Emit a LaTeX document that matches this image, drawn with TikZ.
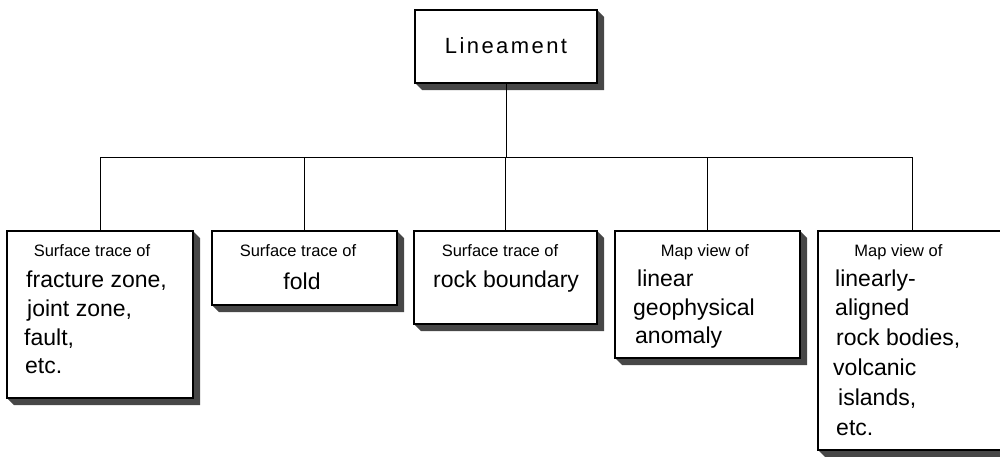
\documentclass[tikz,border=0pt]{standalone}
\usepackage{fontspec}
\setmainfont{Liberation Sans}
\newfontfamily\spacedfont[LetterSpace=11]{Liberation Sans}
\usetikzlibrary{backgrounds}

\tikzset{
  box/.style={draw=black, fill=white, line width=1.3pt, inner sep=0pt, outer sep=0pt},
  shadowfill/.style={fill=black!72},
  link/.style={draw=black, line width=1pt},
  head/.style={inner sep=0pt, anchor=base, font=\fontsize{16.5}{19}\selectfont},
  big/.style={inner sep=0pt, anchor=base west, font=\fontsize{23}{28}\selectfont},
  title/.style={inner sep=0pt, anchor=base, font=\spacedfont\fontsize{22}{26}\selectfont}
}

% extruded shadow along the bottom and right side of a box
\newcommand\dropshadow[1]{%
  \begin{pgfonlayer}{background}
    \fill[shadowfill] (#1.south west) -- ([xshift=7pt,yshift=-7pt]#1.south west)
      -- ([xshift=7pt,yshift=-7pt]#1.south east)
      -- ([xshift=7pt,yshift=-7pt]#1.north east)
      -- (#1.north east) -- cycle;
  \end{pgfonlayer}}

\begin{document}
\begin{tikzpicture}[x=1pt,y=-1pt]
\path[use as bounding box] (0,0) rectangle (1000,456);
\clip (0,0) rectangle (1000,456);

% boxes
\node[box, minimum width=182pt, minimum height=73pt]  (top) at (506,46.5) {};
\node[box, minimum width=186pt, minimum height=167pt] (b1) at (100,314.5) {};
\node[box, minimum width=185pt, minimum height=74pt]  (b2) at (304.5,268) {};
\node[box, minimum width=183pt, minimum height=93pt]  (b3) at (505.5,277.5) {};
\node[box, minimum width=185pt, minimum height=127pt] (b4) at (707.5,294.5) {};
\node[box, minimum width=188pt, minimum height=219pt] (b5) at (912,340.5) {};

\dropshadow{top}
\dropshadow{b1}
\dropshadow{b2}
\dropshadow{b3}
\dropshadow{b4}
\dropshadow{b5}

% tree connectors
\coordinate (bus) at (0,157);
\draw[link] (top.south) -- (top.south |- bus);
\draw[link] (b1.north) -- (b1.north |- bus) -- (b5.north |- bus) -- (b5.north);
\draw[link] (b2.north) -- (b2.north |- bus);
\draw[link] (b3.north) -- (b3.north |- bus);
\draw[link] (b4.north) -- (b4.north |- bus);

% labels
\node[title] (tt) at (506,53.5) {Lineament};

\node[head] (h1) at (92,256.5) {Surface trace of};
\node[big] (t11) at (26,287) {fracture zone,};
\node[big] (t12) at (27,316.5) {joint zone,};
\node[big] (t13) at (24,345) {fault,};
\node[big] (t14) at (25,373.5) {etc.};

\node[head] (h2) at (298,256.5) {Surface trace of};
\node[big, anchor=base] (t21) at (302,289) {fold};

\node[head] (h3) at (500,256.5) {Surface trace of};
\node[big] (t31) at (433,287) {rock boundary};

\node[head] (h4) at (705,256) {Map view of};
\node[big] (t41) at (637,286) {linear};
\node[big] (t42) at (633,315) {geophysical};
\node[big] (t43) at (635,343.5) {anomaly};

\node[head] (h5) at (898.5,256) {Map view of};
\node[big] (t51) at (835,286) {linearly-};
\node[big] (t52) at (835,315.5) {aligned};
\node[big] (t53) at (836,345) {rock bodies,};
\node[big] (t54) at (833,375) {volcanic};
\node[big] (t55) at (838,405) {islands,};
\node[big] (t56) at (836,435) {etc.};
\end{tikzpicture}
\end{document}
